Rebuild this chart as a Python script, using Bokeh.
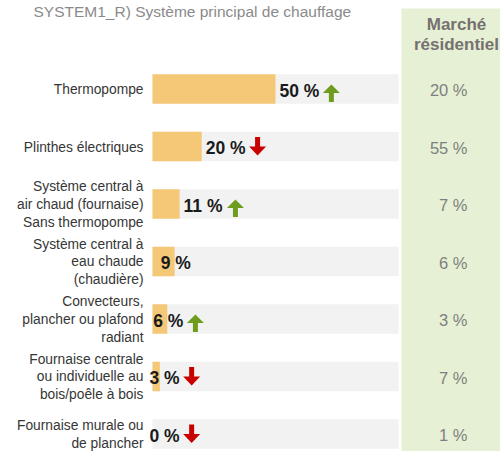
import numpy as np
from bokeh.plotting import figure
from bokeh.models import Range1d
from bokeh.core.properties import value
from bokeh.embed import file_html
from bokeh.resources import INLINE

# ---------------- data ----------------
title = "SYSTEM1_R) Système principal de chauffage"
header = "Marché\nrésidentiel"
categories = [
    "Thermopompe",
    "Plinthes électriques",
    "Système central à\nair chaud (fournaise)\nSans thermopompe",
    "Système central à\neau chaude\n(chaudière)",
    "Convecteurs,\nplancher ou plafond\nradiant",
    "Fournaise centrale\nou individuelle au\nbois/poêle à bois",
    "Fournaise murale ou\nde plancher",
]
values = [50, 20, 11, 9, 6, 3, 0]
trend = ["up", "down", "up", "", "up", "down", "down"]
market = [20, 55, 7, 6, 3, 7, 1]

# ---------------- layout helpers (pixels -> data) ----------------
W, H = 500, 451
X0, PX = 152.0, 2.46      # bar origin (px) and px per percent
Y0, ROW = 88.5, 57.5      # first row centre (px) and row pitch (px)


def x_of(px):
    return (px - X0) / PX


def y_of(py):
    return (py - Y0) / ROW


FONT = "Liberation Sans"
idx = np.arange(len(categories))
vals = np.array(values, dtype=float)

p = figure(width=W, height=H, output_backend="svg", toolbar_location=None,
           x_range=Range1d(x_of(0), x_of(W)), y_range=Range1d(y_of(H), y_of(0)),
           min_border=0, outline_line_color=None, background_fill_color="white",
           border_fill_color="white")
p.axis.visible = False
p.grid.visible = False

# green market column
p.quad(left=x_of(401), right=x_of(W), top=y_of(8), bottom=y_of(H + 5),
       fill_color="#E6F0D4", line_color=None)

# bar tracks and bars
bh = 29.5 / ROW
p.hbar(y=idx, left=0, right=100, height=bh, fill_color="#F2F2F2", line_color=None)
p.hbar(y=idx, left=0, right=vals, height=bh, fill_color="#F5C878", line_color=None)

# category labels
p.text(x=0, y=idx + 0.5 / ROW, text=categories, x_offset=-9, text_align="right",
       text_baseline="middle", text_font=value(FONT), text_font_size="13.8px",
       text_color="#363636", text_line_height=1.18)

# value labels
fs = 17.5
labels = [f"{v} %" for v in values]
widths = np.array([fs * (0.556 * len(str(v)) + 0.278 + 0.889) for v in values])
bar_px = vals * PX
left_px = np.where(bar_px >= 25, X0 + bar_px + 4, X0 + np.maximum(bar_px, 11) - 14)
p.text(x=x_of(left_px), y=idx + 1.5 / ROW, text=labels, text_align="left",
       text_baseline="middle", text_font=value(FONT), text_font_size=f"{fs}px",
       text_font_style="bold", text_color="#1a1a1a")

# trend arrows
up_shape = [(0, -4.5), (8.5, 4), (2.5, 4), (2.5, 13), (-2.5, 13), (-2.5, 4), (-8.5, 4)]
down_shape = [(0, 9), (8.5, 0), (2.5, 0), (2.5, -9.5), (-2.5, -9.5), (-2.5, 0), (-8.5, 0)]
for kind, shape, col in (("up", up_shape, "#6E9C1E"), ("down", down_shape, "#C80000")):
    xs, ys = [], []
    for i, t in enumerate(trend):
        if t != kind:
            continue
        cx = left_px[i] + widths[i] + 12
        cy = Y0 + i * ROW
        xs.append([x_of(cx + dx) for dx, dy in shape])
        ys.append([y_of(cy + dy) for dx, dy in shape])
    if xs:
        p.patches(xs=xs, ys=ys, fill_color=col, line_color=None)

# market values
p.text(x=x_of(467), y=idx + 1.0 / ROW, text=[f"{m} %" for m in market],
       text_align="right", text_baseline="middle", text_font=value(FONT),
       text_font_size="16.5px", text_color="#7f7f7f")

# header
p.text(x=[x_of(456)], y=[y_of(34)], text=[header], text_align="center",
       text_baseline="middle", text_font=value(FONT), text_font_size="17px",
       text_font_style="bold", text_color="#767171", text_line_height=1.1)

# title
p.text(x=[x_of(33)], y=[y_of(11)], text=[title], text_align="left",
       text_baseline="middle", text_font=value(FONT), text_font_size="15.5px",
       text_color="#8a8a8a")

open("out.html", "w").write(file_html(p, INLINE))
